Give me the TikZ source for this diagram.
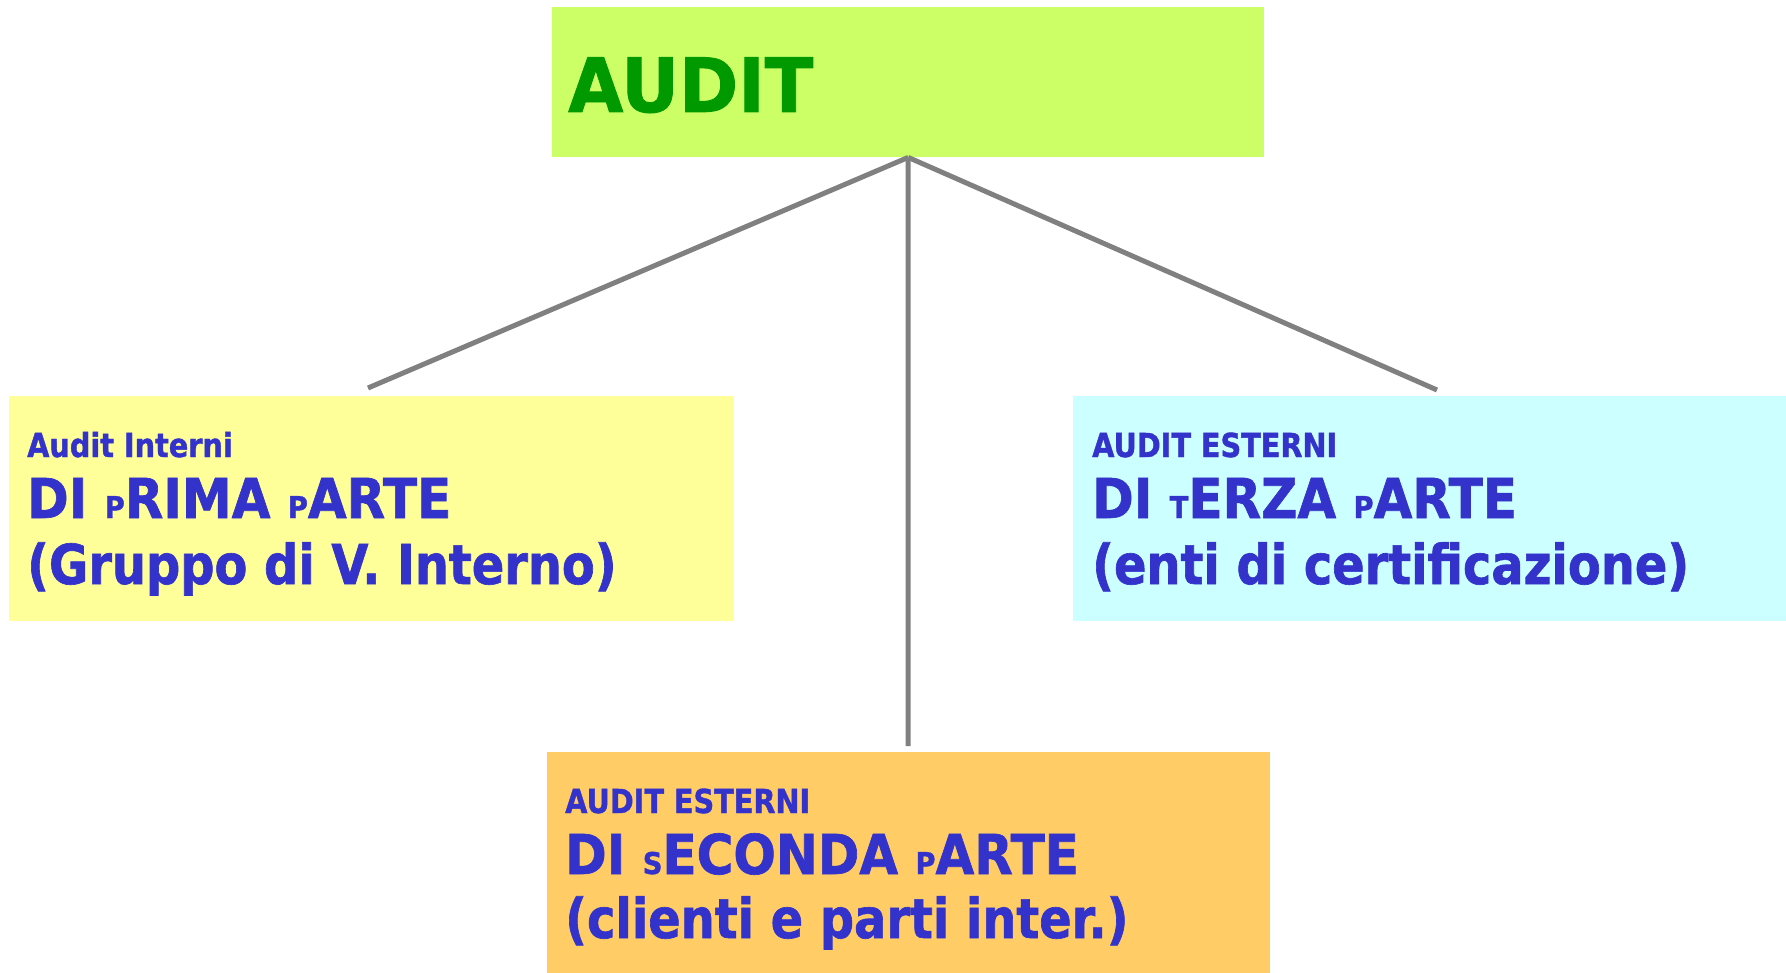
\documentclass[tikz,border=0pt]{standalone}
\usepackage{fontspec}
\setmainfont{DejaVu Sans}[FakeStretch=0.87, BoldFeatures={FakeBold=1.2}]
\newfontfamily\audfont{DejaVu Sans}[FakeStretch=0.95, BoldFeatures={FakeBold=1.2}]
\newfontfamily\capfont{DejaVu Sans}[FakeStretch=0.91, BoldFeatures={FakeBold=1.2}]
\definecolor{audgreen}{HTML}{CCFF66}
\definecolor{audtext}{HTML}{009900}
\definecolor{yel}{HTML}{FFFF99}
\definecolor{cya}{HTML}{CCFFFF}
\definecolor{ora}{HTML}{FFCC66}
\definecolor{blu}{HTML}{3333CC}
\definecolor{lin}{HTML}{808080}
\newcommand\smallcap[1]{{\fontsize{30}{30}\selectfont #1}}
\tikzset{
  box/.style={draw=none, inner sep=0, anchor=north west},
  small/.style={anchor=base west, inner sep=0, text=blu, font=\bfseries\fontsize{33}{33}\selectfont},
  big/.style={anchor=base west, inner sep=0, text=blu, font=\bfseries\fontsize{55}{55}\selectfont},
  bigcap/.style={anchor=base west, inner sep=0, text=blu, font=\capfont\bfseries\fontsize{55}{55}\selectfont},
  conn/.style={draw=lin, line width=5pt}
}
\begin{document}
\begin{tikzpicture}[x=1pt,y=-1pt]
\useasboundingbox (0,0) rectangle (1786,973);
% boxes
\node[box, fill=audgreen, minimum width=712pt, minimum height=150pt] (audit) at (552,7) {};
\node[box, fill=yel, minimum width=725pt, minimum height=225pt] (left) at (9,396) {};
\node[box, fill=cya, minimum width=713pt, minimum height=225pt] (right) at (1073,396) {};
\node[box, fill=ora, minimum width=723pt, minimum height=221pt] (bottom) at (547,752) {};
% texts
\node[anchor=base west, inner sep=0, text=audtext, font=\audfont\bfseries\fontsize{75}{75}\selectfont] (audittxt) at (568,112) {AUDIT};
\node[small] (l1) at (27,457) {Audit Interni};
\node[bigcap] (l2) at (27,518) {DI \smallcap{P}RIMA \smallcap{P}ARTE};
\node[big] (l3) at (27,584) {(Gruppo di V. Interno)};
\node[small] (r1) at (1092,457) {AUDIT ESTERNI};
\node[bigcap] (r2) at (1092,518) {DI \smallcap{T}ERZA \smallcap{P}ARTE};
\node[big] (r3) at (1092,584) {(enti di certificazione)};
\node[small] (b1) at (565,813) {AUDIT ESTERNI};
\node[bigcap] (b2) at (565,874) {DI \smallcap{S}ECONDA \smallcap{P}ARTE};
\node[big] (b3) at (565,938) {(clienti e parti inter.)};
% connectors
\coordinate (le) at (368,388);
\coordinate (re) at (1437,390);
\coordinate (be) at (908,746);
\draw[conn] (audit.south) -- (le);
\draw[conn] (audit.south) -- (be);
\draw[conn] (audit.south) -- (re);
\end{tikzpicture}
\end{document}
